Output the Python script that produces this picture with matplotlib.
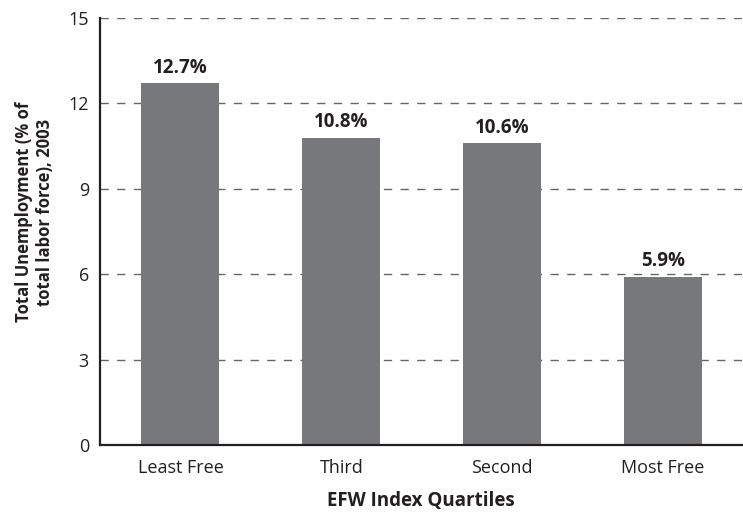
import matplotlib
matplotlib.use('Agg')
import matplotlib.pyplot as plt

categories = ['Least Free', 'Third', 'Second', 'Most Free']
values = [12.7, 10.8, 10.6, 5.9]
labels = ['12.7%', '10.8%', '10.6%', '5.9%']
yticks = [0, 3, 6, 9, 12, 15]

plt.rcParams['font.family'] = ['Open Sans', 'DejaVu Sans']

fig = plt.figure(figsize=(7.43, 5.16), dpi=100)
ax = fig.add_axes([0.1346, 0.1376, 0.864, 0.8275])

x = range(len(categories))
ax.bar(x, values, width=0.485, color='#77787b', zorder=3)
for i, v in enumerate(values):
    ax.text(i, v + 0.2, labels[i], ha='center', va='bottom', fontsize=13.5, fontweight='bold', color='#231f20')

ax.set_xlim(-0.5, 3.49)
ax.set_ylim(0, 15)
ax.set_yticks(yticks)
ax.set_xticks(list(x))
ax.set_xticklabels(categories)
ax.tick_params(axis='y', length=0, labelsize=13, colors='#231f20', pad=8)
ax.tick_params(axis='x', length=0, labelsize=13, colors='#231f20', pad=10)
ax.yaxis.grid(True, linestyle=(0, (6, 6)), color='#666666', linewidth=1, zorder=0)

for s in ['top', 'right']:
    ax.spines[s].set_visible(False)
ax.spines['left'].set_linewidth(1.6)
ax.spines['bottom'].set_linewidth(1.6)
ax.spines['left'].set_color('#231f20')
ax.spines['bottom'].set_color('#231f20')
ax.spines['bottom'].set_zorder(4)

ax.set_xlabel('EFW Index Quartiles', fontsize=13.5, fontweight='bold', color='#231f20', labelpad=10)
ax.set_ylabel('Total Unemployment (% of\ntotal labor force), 2003', fontsize=12, fontweight='bold', color='#231f20')
ax.yaxis.set_label_coords(-0.072, 0.545)

fig.savefig('out.png', dpi=100)
